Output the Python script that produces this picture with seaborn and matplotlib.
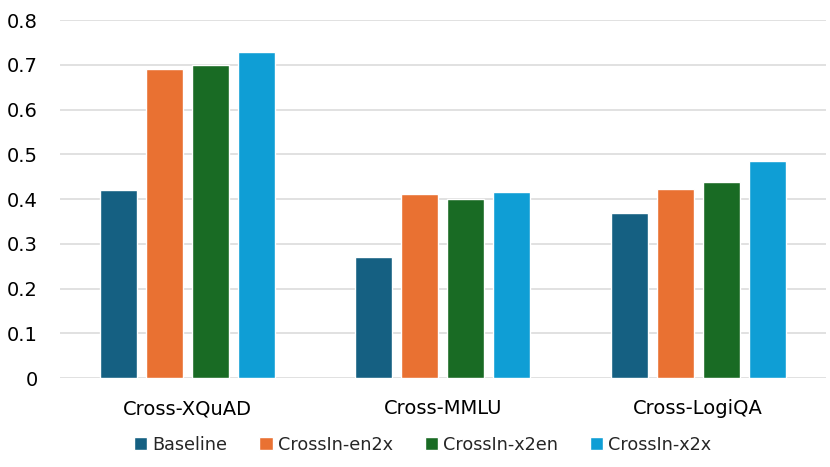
import matplotlib
matplotlib.use("Agg")
import matplotlib.pyplot as plt
import seaborn as sns
import pandas as pd

categories = ["Cross-XQuAD", "Cross-MMLU", "Cross-LogiQA"]
series = ["Baseline", "CrossIn-en2x", "CrossIn-x2en", "CrossIn-x2x"]
baseline = [0.42, 0.27, 0.37]
en2x = [0.69, 0.412, 0.422]
x2en = [0.70, 0.40, 0.438]
x2x = [0.728, 0.417, 0.486]
colors = ["#156082", "#E97132", "#196B24", "#0F9ED5"]
yticks = [0, 0.1, 0.2, 0.3, 0.4, 0.5, 0.6, 0.7, 0.8]

rows = []
for s, vals in zip(series, [baseline, en2x, x2en, x2x]):
    for c, v in zip(categories, vals):
        rows.append({"category": c, "series": s, "value": v})
df = pd.DataFrame(rows)

sns.set_theme(style="white")
plt.rcParams['font.family'] = ['DejaVu Sans']

fig = plt.figure(figsize=(8.3, 4.67), dpi=100)
ax = fig.add_axes([0.072, 0.19, 0.923, 0.767])
sns.barplot(data=df, x="category", y="value", hue="series", order=categories,
            hue_order=series, palette=colors, width=0.72, gap=0.2,
            saturation=1, ax=ax, legend=True)
ax.set_xlim(-0.5, 2.5)
ax.set_ylim(0, 0.8)
ax.set_yticks(yticks)
ax.set_yticklabels([f"{t:g}" for t in yticks])
ax.yaxis.grid(True, color="#D9D9D9", linewidth=1.1)
ax.set_axisbelow(True)
for sp in ax.spines.values():
    sp.set_visible(False)
ax.set_xlabel("")
ax.set_ylabel("")
ax.tick_params(axis="y", labelsize=14, colors="#000000", length=0, pad=16)
ax.tick_params(axis="x", labelsize=14, colors="#000000", length=0, pad=15)

ax.legend(loc="center", bbox_to_anchor=(0.474, -0.185), ncol=4, frameon=False,
          fontsize=12.7, handlelength=0.75, handleheight=0.75, handletextpad=0.3,
          columnspacing=1.8)
fig.savefig("out.png", dpi=100)
